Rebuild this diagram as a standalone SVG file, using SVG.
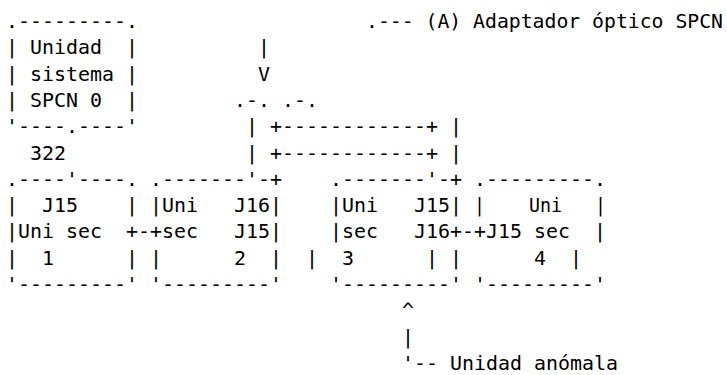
<svg xmlns="http://www.w3.org/2000/svg" width="727" height="375" viewBox="0 0 727 375">
<style>
text{font-family:"DejaVu Sans Mono","Liberation Mono",monospace;font-size:19.9px;fill:#000;white-space:pre}
</style>
<rect x="0" y="0" width="727" height="375" fill="#fff"/>
<g id="unidad-sistema">
<text xml:space="preserve" x="6" y="28" textLength="132" lengthAdjust="spacingAndGlyphs">.---------.</text>
<text xml:space="preserve" x="6" y="54.3" textLength="132" lengthAdjust="spacingAndGlyphs">| Unidad  |</text>
<text xml:space="preserve" x="6" y="80.6" textLength="132" lengthAdjust="spacingAndGlyphs">| sistema |</text>
<text xml:space="preserve" x="6" y="106.9" textLength="132" lengthAdjust="spacingAndGlyphs">| SPCN 0  |</text>
<text xml:space="preserve" x="6" y="133.2" textLength="132" lengthAdjust="spacingAndGlyphs">'----.----'</text>
</g>
<g id="label-322">
<text x="30" y="159.5" textLength="36" lengthAdjust="spacingAndGlyphs">322</text>
</g>
<g id="label-adaptador">
<text xml:space="preserve" x="366" y="28" textLength="357" lengthAdjust="spacingAndGlyphs">.--- (A) Adaptador óptico SPCN</text>
</g>
<g id="adaptador">
<text xml:space="preserve" x="234" y="106.9" textLength="84" lengthAdjust="spacingAndGlyphs">.-. .-.</text>
<text xml:space="preserve" x="246" y="133.2" textLength="216" lengthAdjust="spacingAndGlyphs">| +------------+ |</text>
<text xml:space="preserve" x="246" y="159.5" textLength="216" lengthAdjust="spacingAndGlyphs">| +------------+ |</text>
</g>
<g id="unidad-sec-1">
<text xml:space="preserve" x="6" y="185.8" textLength="132" lengthAdjust="spacingAndGlyphs">.----'----.</text>
<text xml:space="preserve" x="6" y="212.1" textLength="132" lengthAdjust="spacingAndGlyphs">|  J15    |</text>
<text xml:space="preserve" x="6" y="238.4" textLength="96" lengthAdjust="spacingAndGlyphs">|Uni sec</text>
<text xml:space="preserve" x="6" y="264.7" textLength="132" lengthAdjust="spacingAndGlyphs">|  1      |</text>
<text xml:space="preserve" x="6" y="291" textLength="132" lengthAdjust="spacingAndGlyphs">'---------'</text>
</g>
<g id="unidad-sec-2">
<text xml:space="preserve" x="150" y="185.8" textLength="132" lengthAdjust="spacingAndGlyphs">.-------'-+</text>
<text xml:space="preserve" x="150" y="212.1" textLength="132" lengthAdjust="spacingAndGlyphs">|Uni   J16|</text>
<text xml:space="preserve" x="162" y="238.4" textLength="120" lengthAdjust="spacingAndGlyphs">sec   J15|</text>
<text xml:space="preserve" x="150" y="264.7" textLength="132" lengthAdjust="spacingAndGlyphs">|      2  |</text>
<text xml:space="preserve" x="150" y="291" textLength="132" lengthAdjust="spacingAndGlyphs">'---------'</text>
</g>
<g id="unidad-sec-3">
<text xml:space="preserve" x="330" y="185.8" textLength="132" lengthAdjust="spacingAndGlyphs">.-------'-+</text>
<text xml:space="preserve" x="330" y="212.1" textLength="132" lengthAdjust="spacingAndGlyphs">|Uni   J15|</text>
<text xml:space="preserve" x="330" y="238.4" textLength="120" lengthAdjust="spacingAndGlyphs">|sec   J16</text>
<text xml:space="preserve" x="306" y="264.7" textLength="156" lengthAdjust="spacingAndGlyphs">|  3      | |</text>
<text xml:space="preserve" x="330" y="291" textLength="132" lengthAdjust="spacingAndGlyphs">'---------'</text>
</g>
<g id="unidad-sec-4">
<text xml:space="preserve" x="474" y="185.8" textLength="132" lengthAdjust="spacingAndGlyphs">.---------.</text>
<text xml:space="preserve" x="474" y="212.1" textLength="132" lengthAdjust="spacingAndGlyphs">|    Uni   |</text>
<text xml:space="preserve" x="486" y="238.4" textLength="120" lengthAdjust="spacingAndGlyphs">J15 sec  |</text>
<text xml:space="preserve" x="534" y="264.7" textLength="48" lengthAdjust="spacingAndGlyphs">4  |</text>
<text xml:space="preserve" x="474" y="291" textLength="132" lengthAdjust="spacingAndGlyphs">'---------'</text>
</g>
<g id="label-anomala">
<text xml:space="preserve" x="402" y="369.9" textLength="216" lengthAdjust="spacingAndGlyphs">'-- Unidad anómala</text>
</g>
<g id="connectors">
<text x="258" y="54.3" textLength="12" lengthAdjust="spacingAndGlyphs">|</text>
<text x="258" y="80.6" textLength="12" lengthAdjust="spacingAndGlyphs">V</text>
<text x="126" y="238.4" textLength="36" lengthAdjust="spacingAndGlyphs">+-+</text>
<text x="450" y="238.4" textLength="36" lengthAdjust="spacingAndGlyphs">+-+</text>
<text x="402" y="317.3" textLength="12" lengthAdjust="spacingAndGlyphs">^</text>
<text x="402" y="343.6" textLength="12" lengthAdjust="spacingAndGlyphs">|</text>
</g>
</svg>
